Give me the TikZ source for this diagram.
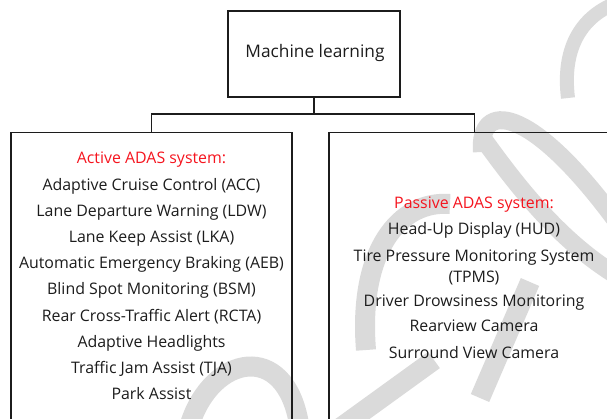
\documentclass[tikz,border=0pt]{standalone}
\usepackage{fontspec}
\setmainfont{Open Sans}
\definecolor{wm}{HTML}{DADADA}
\definecolor{ink}{HTML}{1C1C1C}
\definecolor{hot}{HTML}{F5141E}
\tikzset{
  box/.style={draw=ink, line width=1.2pt, rectangle, inner sep=0pt},
  link/.style={draw=ink, line width=1.2pt},
  mark stroke/.style={draw=wm, line width=#1, line cap=butt},
  items/.style={align=center, text=ink, font=\fontsize{15.9}{20}\selectfont, inner sep=0pt}
}
\begin{document}
\begin{tikzpicture}[x=1pt, y=-1pt]
\useasboundingbox (0,0) rectangle (607,418);
\clip (0,0) rectangle (607,418);

% background watermark strokes
\draw[mark stroke=14pt] (568,98) .. controls (562,50) and (580,18) .. (614,4);
\draw[mark stroke=18pt] (482,152) .. controls (478,100) and (530,105) .. (614,218);
\draw[mark stroke=18pt] (484,140) .. controls (520,190) and (560,240) .. (614,274);
\draw[mark stroke=20pt] (530,282) -- (480,398);
\draw[mark stroke=20pt] (366,350) .. controls (358,250) and (400,200) .. (450,204);
\draw[mark stroke=20pt] (340,428) -- (434,360);
\draw[mark stroke=20pt] (190,424) .. controls (212,355) and (285,340) .. (299,424);

% boxes
\node[box, minimum width=172pt, minimum height=86pt] (ml) at (314,54) {};
\node[font=\fontsize{17.3}{20}\selectfont, text=ink] (mltext) at (315,53) {Machine learning};
\node[box, minimum width=281pt, minimum height=300pt, anchor=north] (active) at (151.5,132) {};
\node[box, minimum width=291pt, minimum height=300pt, anchor=north] (passive) at (474.5,132) {};

% connectors
\coordinate (j) at (314,114);
\draw[link] (ml.south) -- (j);
\draw[link] (active.north) |- (j) -| (passive.north);

% list texts
\node[items, anchor=north] (alist) at (151.5,152) {%
  \textcolor{hot}{Active ADAS system:}\\[6.2pt]
  Adaptive Cruise Control (ACC)\\[6.2pt]
  Lane Departure Warning (LDW)\\[6.2pt]
  Lane Keep Assist (LKA)\\[6.2pt]
  Automatic Emergency Braking (AEB)\\[6.2pt]
  Blind Spot Monitoring (BSM)\\[6.2pt]
  Rear Cross-Traffic Alert (RCTA)\\[6.2pt]
  Adaptive Headlights\\[6.2pt]
  Traffic Jam Assist (TJA)\\[6.2pt]
  Park Assist};
\node[items, anchor=north] (plist) at (474,196.5) {%
  \textcolor{hot}{Passive ADAS system:}\\[6pt]
  Head-Up Display (HUD)\\[7pt]
  Tire Pressure Monitoring System\\[1pt]
  (TPMS)\\[4pt]
  Driver Drowsiness Monitoring\\[5pt]
  Rearview Camera\\[7pt]
  Surround View Camera};
\end{tikzpicture}
\end{document}
